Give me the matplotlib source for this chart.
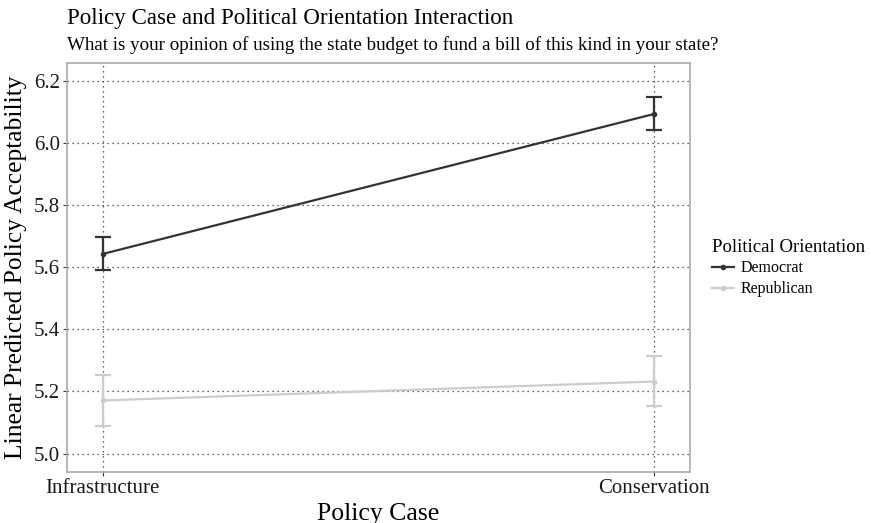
import matplotlib
matplotlib.use("Agg")
import matplotlib.pyplot as plt
from matplotlib.lines import Line2D

categories = ["Infrastructure", "Conservation"]
groups = ["Democrat", "Republican"]
dem_mean = [5.643, 6.094]
dem_low = [5.590, 6.041]
dem_high = [5.696, 6.147]
rep_mean = [5.171, 5.232]
rep_low = [5.090, 5.152]
rep_high = [5.253, 5.314]
yticks = [5.0, 5.2, 5.4, 5.6, 5.8, 6.0, 6.2]

colors = {"Democrat": "#333333", "Republican": "#cccccc"}
plt.rcParams['font.family'] = ['Liberation Serif', 'DejaVu Serif']

fig = plt.figure(figsize=(8.71, 5.23), dpi=100)
ax = fig.add_axes([0.0769, 0.0966, 0.7153, 0.7829])

x = [1, 2]
series = [("Democrat", dem_mean, dem_low, dem_high), ("Republican", rep_mean, rep_low, rep_high)]
for name, m, lo, hi in series:
    c = colors[name]
    yerr = [[mm - l for mm, l in zip(m, lo)], [h - mm for mm, h in zip(m, hi)]]
    ax.errorbar(x, m, yerr=yerr, color=c, lw=1.6, elinewidth=1.6, capsize=5.5,
                capthick=1.6, marker='o', markersize=3, zorder=3)

ax.set_xlim(0.935, 2.065)
ax.set_ylim(4.939, 6.258)
ax.set_xticks(x)
ax.set_xticklabels(categories)
ax.set_yticks(yticks)
ax.set_yticklabels([f"{v:.1f}" for v in yticks])
ax.grid(True, color="#333333", linestyle=(0, (1, 3)), lw=0.9)
ax.set_axisbelow(True)
for s in ax.spines.values():
    s.set_color("#aaaaaa")
    s.set_linewidth(1.2)
ax.tick_params(axis='both', length=3, color="#333333", labelsize=15, labelcolor="#1a1a1a", pad=2)

ax.set_xlabel("Policy Case", fontsize=18.5, labelpad=3)
ax.set_ylabel("Linear Predicted Policy Acceptability", fontsize=18.4, labelpad=5)

fig.text(0.0769, 0.955, "Policy Case and Political Orientation Interaction", fontsize=16.6, ha='left', va='baseline')
fig.text(0.0769, 0.905, "What is your opinion of using the state budget to fund a bill of this kind in your state?", fontsize=13.7, ha='left', va='baseline')

handles = [Line2D([0], [0], color=colors[g], lw=1.6, marker='o', markersize=3) for g in groups]
leg = fig.legend(handles, groups, loc='upper left', bbox_to_anchor=(0.81, 0.556), frameon=False,
                 title="Political Orientation", fontsize=11.5, title_fontsize=13.5,
                 handlelength=1.4, handletextpad=0.4, labelspacing=0.3, borderaxespad=0)
leg._legend_box.align = "left"

fig.savefig("out.png", dpi=100)
